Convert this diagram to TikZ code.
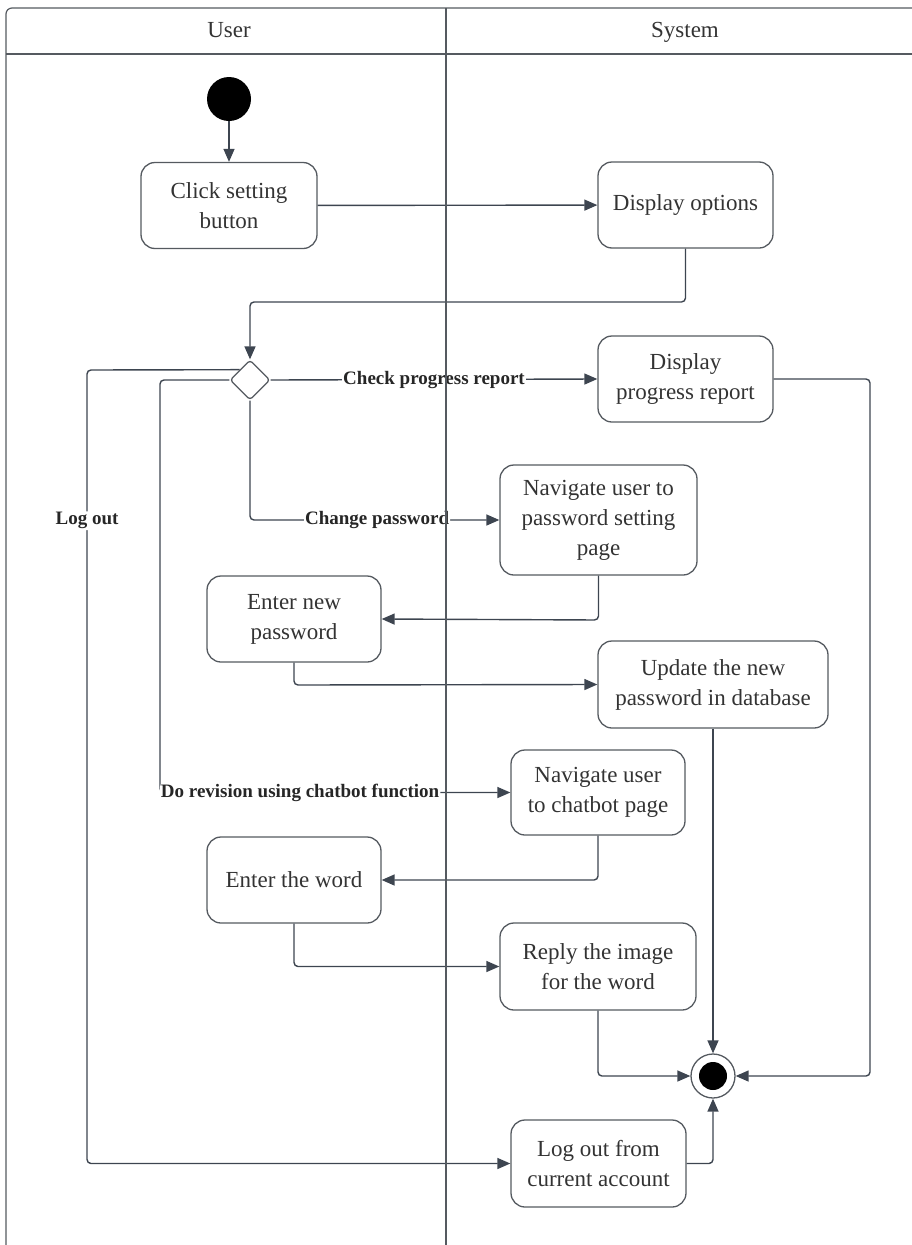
\documentclass[tikz,border=0pt]{standalone}
\usepackage{fontspec}
\setmainfont{Liberation Serif}
\usetikzlibrary{arrows.meta,shapes.geometric}
\definecolor{linec}{HTML}{3D4550}
\definecolor{framec}{HTML}{555A60}
\definecolor{txtc}{HTML}{333333}
\tikzset{
  act/.style={draw=framec, line width=1.3pt, rounded corners=14pt, align=center,
    inner sep=2pt, text=txtc, font=\fontsize{23}{30}\selectfont},
  conn/.style={draw=linec, line width=1.4pt, rounded corners=4pt,
    -{Triangle[length=13pt,width=11pt]}},
  guard/.style={fill=white, inner sep=1pt, text=black!85,
    font=\fontsize{19}{22}\selectfont\bfseries},
  lane/.style={draw=framec, line width=1.2pt},
  lanetitle/.style={text=txtc, font=\fontsize{23}{28}\selectfont, anchor=base}
}
\begin{document}
\begin{tikzpicture}[x=1pt,y=-1pt]
\useasboundingbox (0,0) rectangle (912,1245);
\clip (0,0) rectangle (912,1245);

% lane titles
\node[lanetitle] (tuser) at (229,37) {User};
\node[lanetitle] (tsys) at (685,37) {System};

% activities
\node[circle, fill=black, minimum size=44pt, inner sep=0pt] (start) at (229,99) {};
\node[act, minimum width=176pt, minimum height=86pt] (click) at (229,205.5) {Click setting\\button};
\node[act, minimum width=175pt, minimum height=86pt] (disp) at (685.5,205) {Display options};
\node[diamond, draw=framec, line width=1.3pt, aspect=1, minimum size=40pt, inner sep=0pt,
  rounded corners=3pt] (dec) at (250,380) {};
\node[act, minimum width=175pt, minimum height=86pt] (prog) at (685.5,379) {Display\\progress report};
\node[act, minimum width=197pt, minimum height=110pt] (navpw) at (598.5,520) {Navigate user to\\password setting\\page};
\node[act, minimum width=174pt, minimum height=86pt] (enterpw) at (294,619) {Enter new\\password};
\node[act, minimum width=230pt, minimum height=87pt] (update) at (713,684.5) {Update the new\\password in database};
\node[act, minimum width=174pt, minimum height=85pt] (navchat) at (598,792.5) {Navigate user\\to chatbot page};
\node[act, minimum width=174pt, minimum height=86pt] (word) at (294,880) {Enter the word};
\node[act, minimum width=196pt, minimum height=87pt] (reply) at (598,966.5) {Reply the image\\for the word};
\node[act, minimum width=175pt, minimum height=87pt] (logout) at (598.5,1163.5) {Log out from\\current account};
\node[circle, draw=framec, line width=1.3pt, minimum size=44pt, inner sep=0pt] (final) at (713,1076) {};
\node[circle, fill=black, minimum size=28pt, inner sep=0pt] (finaldot) at (713,1076) {};

% bend points
\coordinate (b1) at (685.5,302);
\coordinate (b1l) at (250,302);
\coordinate (b2) at (250,520);
\coordinate (b3) at (598.5,620);
\coordinate (b4) at (294,685);
\coordinate (b5a) at (160,380);
\coordinate (b5b) at (160,792.5);
\coordinate (b6a) at (87,370);
\coordinate (b6b) at (87,1163.5);
\coordinate (b7) at (598,880);
\coordinate (b8) at (294,966.5);
\coordinate (b9) at (598,1076);
\coordinate (b10a) at (870,379);
\coordinate (b10b) at (870,1076);
\coordinate (b11) at (713,1163.5);

% control flow
\draw[conn] (start) -- (click);
\draw[conn] (click) -- (disp);
\draw[conn] (disp.south) -- (b1) -- (b1l) -- (dec.north);
\draw[conn] (dec.east) -- node[guard] (gprog) {Check progress report} (prog.west);
\draw[conn] (dec.south) -- (b2) -- node[guard, pos=0.51] (gpw) {Change password} (navpw.west);
\draw[conn] (navpw.south) -- (b3) -- (enterpw.east);
\draw[conn] (enterpw.south) -- (b4) -- (update.west);
\draw[conn] (update.south) -- (final.north);
\draw[conn] (dec.west) -- (b5a) -- (b5b) -- node[guard, pos=0.4] (gchat) {Do revision using chatbot function} (navchat.west);
\draw[conn] (dec.north west) -- (b6a) -- node[guard, pos=0.19] (glog) {Log out} (b6b) -- (logout.west);
\draw[conn] (navchat.south) -- (b7) -- (word.east);
\draw[conn] (word.south) -- (b8) -- (reply.west);
\draw[conn] (reply.south) -- (b9) -- (final.west);
\draw[conn] (prog.east) -- (b10a) -- (b10b) -- (final.east);
\draw[conn] (logout.east) -- (b11) -- (final.south);

% swimlane frame
\draw[lane, rounded corners=6pt] (6,1260) -- (6,8) -- (930,8);
\draw[lane] (6,54) -- (930,54);
\draw[lane] (446,8) -- (446,1260);
\end{tikzpicture}
\end{document}
